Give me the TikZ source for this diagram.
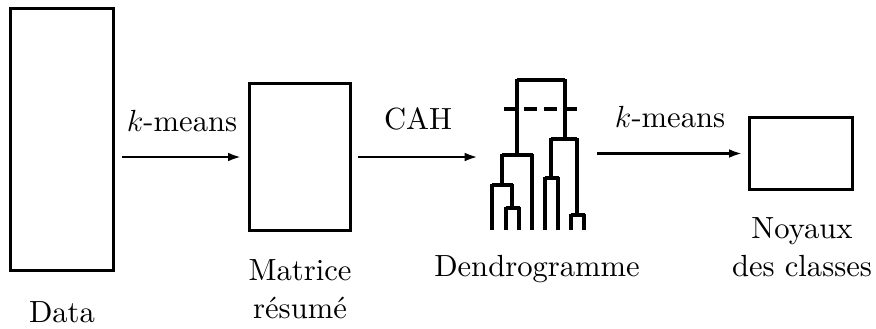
\documentclass[tikz,border=0pt]{standalone}
\usepackage{fix-cm}
\usetikzlibrary{arrows.meta}
\DeclareFontFamily{TU}{lmten}{}
\DeclareFontShape{TU}{lmten}{m}{n}{<-> "[lmroman10-regular]:mapping=tex-text"}{}
\begin{document}
\begin{tikzpicture}[x=0.5pt,y=-0.5pt,
  lbl/.style={font=\fontfamily{lmten}\fontsize{15.3}{19}\selectfont, inner sep=0pt, anchor=base, align=center},
  boxnode/.style={draw, line width=1.5pt, inner sep=0pt},
  arr/.style={line width=1.2pt, -{Latex[length=6.5pt,width=4.4pt]}},
  dendro/.style={line width=1.7pt, line cap=butt, line join=miter}]
\useasboundingbox (0,0) rectangle (876,328);
% boxes
\node[boxnode, minimum width=51.5pt, minimum height=131pt] (data) at (62,139.5) {};
\node[boxnode, minimum width=50.5pt, minimum height=73.5pt] (mat) at (300,157) {};
\node[boxnode, minimum width=51.5pt, minimum height=36pt] (noy) at (801,153.5) {};
\node[inner sep=0pt, minimum width=46pt, minimum height=75.5pt] (den) at (538,154.5) {};
% dendrogram
\draw[dendro] (517,79.8) -- (565,79.8);
\draw[dendro] (517,79) -- (517,154.8);
\draw[dendro] (565,79) -- (565,138.8);
\draw[dendro] (502,154.8) -- (532.5,154.8);
\draw[dendro] (551,138.8) -- (577,138.8);
\draw[dendro] (502,154) -- (502,184.8);
\draw[dendro] (532,154) -- (532,230);
\draw[dendro] (492,184.8) -- (512.5,184.8);
\draw[dendro] (492,184) -- (492,230);
\draw[dendro] (512,184) -- (512,207.8);
\draw[dendro] (506,207.8) -- (519.5,207.8);
\draw[dendro] (506,207) -- (506,230);
\draw[dendro] (519,207) -- (519,230);
\draw[dendro] (551,138) -- (551,177.8);
\draw[dendro] (545,177.8) -- (558.5,177.8);
\draw[dendro] (545,177) -- (545,230);
\draw[dendro] (558,177) -- (558,230);
\draw[dendro] (577,138) -- (577,214.8);
\draw[dendro] (571,214.8) -- (584.5,214.8);
\draw[dendro] (571,214) -- (571,230);
\draw[dendro] (584,214) -- (584,230);
\draw[dendro, dash pattern=on 6.5pt off 3.5pt] (504,109) -- (577,109);
% arrows
\draw[arr, shorten <=3.5pt, shorten >=3.5pt] (data.east |- mat.west) -- (mat.west);
\draw[arr, shorten <=3pt, shorten >=7pt] (mat.east) -- (den.west |- mat.east);
\draw[arr, shorten <=6.5pt, shorten >=3pt] (den.east |- noy.west) -- (noy.west);
% labels
\node[lbl] (l1) at (182,131) {$k$-means};
\node[lbl] (l2) at (418,129) {CAH};
\node[lbl] (l3) at (670,127) {$k$-means};
\node[lbl] (t1) at (62,322) {Data};
\node[lbl] (t2) at (300,318) {Matrice\\résumé};
\node[lbl] (t3) at (537,276) {Dendrogramme};
\node[lbl] (t4) at (802,276) {Noyaux\\des classes};
\end{tikzpicture}
\end{document}
